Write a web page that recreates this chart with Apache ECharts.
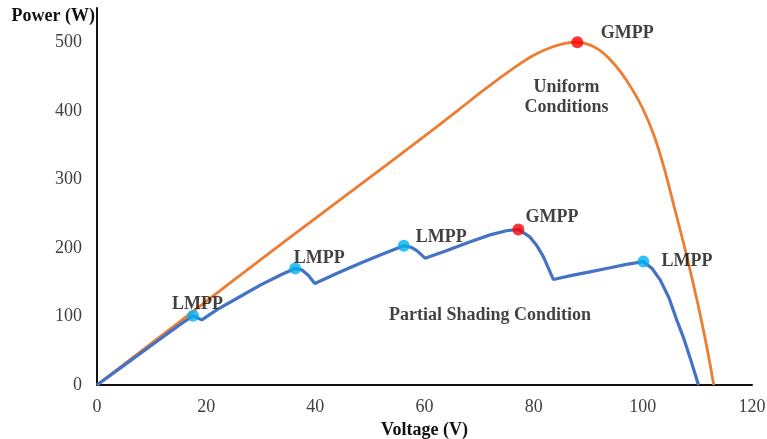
<!DOCTYPE html>
<html>
<head>
<meta charset="utf-8">
<script src="https://cdn.jsdelivr.net/npm/echarts@6/dist/echarts.min.js"></script>
<style>
  html, body { margin: 0; padding: 0; background: #fff; }
  #chart { width: 767px; height: 439px; }
</style>
</head>
<body>
<div id="chart"></div>
<script>
// P-V curve under uniform irradiance: [voltage V, power W]
var uniformCurve = [
  [0, 0], [10, 61], [20, 122], [30, 183], [40, 243], [50, 303], [60, 363],
  [66, 400], [70, 425], [74, 449], [77, 466], [80, 481], [83, 492],
  [85.5, 498], [88, 500], [90, 497], [92, 489], [94, 475], [96, 456],
  [98, 432], [100, 403], [102, 365], [104, 314], [106, 252], [108, 190],
  [110, 121], [111, 84], [112, 44], [113, 0]
];

// P-V curve under partial shading (multiple peaks)
var shadedCurve = [
  [0, 0], [5, 29], [10, 58], [15, 87], [17.6, 101], [19.2, 95], [22, 110],
  [26, 128], [30, 146], [34, 162], [36.3, 170], [37.5, 168], [38.7, 160],
  [39.9, 148], [44, 163], [48, 177], [52, 190], [56.2, 203], [57.5, 201],
  [58.6, 196], [60.1, 185], [64, 196], [68, 208], [72, 219], [75, 225],
  [77.2, 227], [79.3, 216], [80.6, 203], [81.8, 187], [83.6, 154], [87, 160],
  [90.3, 165], [94, 171], [97, 176], [100.1, 180], [101.7, 170], [103.2, 153],
  [104.8, 127], [106.2, 95], [107.5, 68], [108.6, 41], [110.2, 0]
];

// Local maximum power points on the shaded curve
var lmppPoints = [[17.6, 101], [36.3, 170], [56.2, 203], [100.1, 180]];
// Global maximum power points: shaded curve, uniform curve
var gmppPoints = [[77.2, 227], [88, 500]];

var lmppText = 'LMPP';
var gmppText = 'GMPP';

// Region notes: [voltage, power, text]
var notes = [
  [86, 420, 'Uniform\nConditions'],
  [72, 101, 'Partial Shading Condition']
];

var xTicks = { min: 0, max: 120, interval: 20 };
var yTicks = { min: 0, max: 550, interval: 100 };

// label offsets (px) of the point annotations
var lmppOffsets = [[4.5, -11], [24, -10], [37.5, -9], [43.5, 0]];
var gmppOffsets = [[33.5, -12.5], [50, -9]];

var serif = 'Liberation Serif';
var annotStyle = { fontFamily: serif, fontWeight: 'bold', fontSize: 18, color: '#111' };

function pointData(points, offsets, text) {
  return points.map(function (p, i) {
    return {
      value: p,
      label: Object.assign({ show: true, position: 'inside', offset: offsets[i], formatter: text }, annotStyle)
    };
  });
}

var chart = echarts.init(document.getElementById('chart'), null, { renderer: 'canvas' });

chart.setOption({
  animation: false,
  backgroundColor: '#fff',
  grid: { left: 97, right: 15, top: 8, bottom: 54, containLabel: false, outerBoundsMode: 'none' },
  xAxis: {
    type: 'value',
    min: xTicks.min, max: xTicks.max, interval: xTicks.interval,
    name: 'Voltage (V)',
    nameLocation: 'middle',
    nameGap: 33,
    nameTextStyle: { fontFamily: serif, fontWeight: 'bold', fontSize: 18, color: '#111' },
    axisLine: { lineStyle: { color: '#111', width: 2 } },
    axisTick: { show: false },
    splitLine: { show: false },
    axisLabel: { fontFamily: serif, fontSize: 18, color: '#404040', margin: 13 }
  },
  yAxis: {
    type: 'value',
    min: yTicks.min, max: yTicks.max, interval: yTicks.interval,
    name: 'Power (W)',
    nameLocation: 'end',
    nameGap: -8,
    nameTextStyle: { fontFamily: serif, fontWeight: 'bold', fontSize: 18, color: '#111', align: 'right', verticalAlign: 'middle', padding: [0, 2, 0, 0] },
    axisLine: { show: true, lineStyle: { color: '#111', width: 2 } },
    axisTick: { show: false },
    splitLine: { show: false },
    axisLabel: { fontFamily: serif, fontSize: 18, color: '#404040', margin: 15, showMaxLabel: false }
  },
  series: [
    {
      name: 'Uniform Conditions',
      type: 'line',
      data: uniformCurve,
      showSymbol: false,
      smooth: 0.2,
      lineStyle: { color: '#ED7D31', width: 2.8 },
      z: 2
    },
    {
      name: 'Partial Shading Condition',
      type: 'line',
      data: shadedCurve,
      showSymbol: false,
      smooth: false,
      lineStyle: { color: '#4472C4', width: 3.2 },
      z: 3
    },
    {
      name: 'LMPP',
      type: 'scatter',
      data: pointData(lmppPoints, lmppOffsets, lmppText),
      symbolSize: 12,
      itemStyle: { color: '#00B0F0' },
      z: 5
    },
    {
      name: 'GMPP',
      type: 'scatter',
      data: pointData(gmppPoints, gmppOffsets, gmppText),
      symbolSize: 12,
      itemStyle: { color: '#FF0000' },
      z: 5
    },
    {
      name: 'notes',
      type: 'scatter',
      symbolSize: 0,
      data: notes.map(function (n) {
        return {
          value: [n[0], n[1]],
          label: Object.assign({ show: true, position: 'inside', formatter: n[2], lineHeight: 20, align: 'center' }, annotStyle)
        };
      }),
      silent: true,
      z: 4
    }
  ]
});
</script>
</body>
</html>
